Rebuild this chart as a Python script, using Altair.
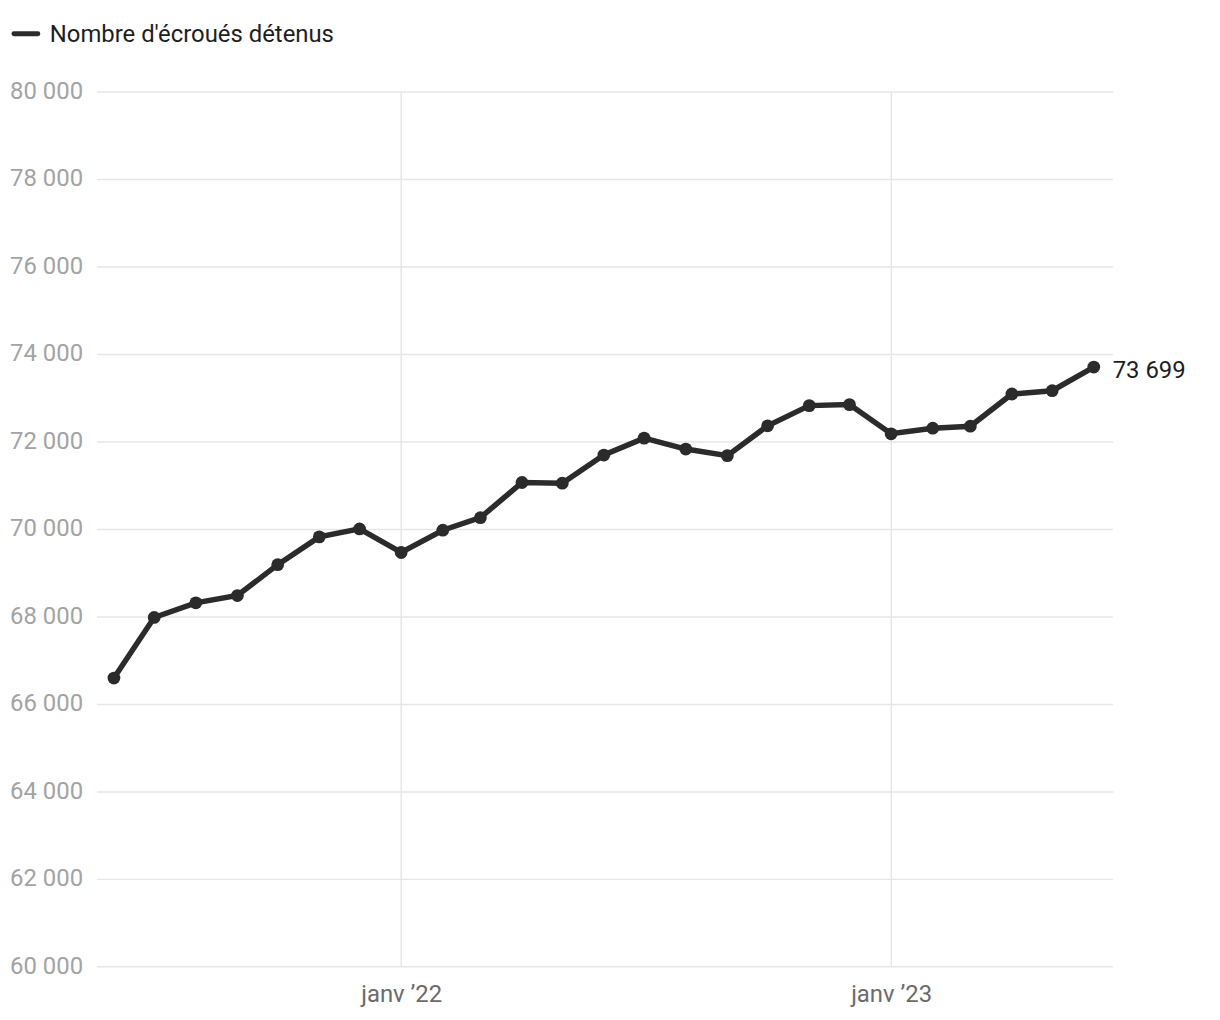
import altair as alt
import pandas as pd

months = [
    "2021-06-01", "2021-07-01", "2021-08-01", "2021-09-01", "2021-10-01", "2021-11-01",
    "2021-12-01", "2022-01-01", "2022-02-01", "2022-03-01", "2022-04-01", "2022-05-01",
    "2022-06-01", "2022-07-01", "2022-08-01", "2022-09-01", "2022-10-01", "2022-11-01",
    "2022-12-01", "2023-01-01", "2023-02-01", "2023-03-01", "2023-04-01", "2023-05-01",
    "2023-06-01",
]
detenus = [
    66591, 67977, 68311, 68477, 69182, 69818,
    70000, 69461, 69970, 70257, 71061, 71045,
    71689, 72075, 71825, 71675, 72357, 72818,
    72841, 72175, 72302, 72348, 73084, 73159,
    73699,
]
y_ticks = [60000, 62000, 64000, 66000, 68000, 70000, 72000, 74000, 76000, 78000, 80000]
series_name = "Nombre d'écroués détenus"

df = pd.DataFrame({"date": months, "value": detenus})
last = df.tail(1)

FONT = "Roboto"
LINE_COLOR = "#2b2b2b"

x_enc = alt.X(
    "date:T",
    scale=alt.Scale(
        type="utc",
        domain=[alt.DateTime(year=2021, month=5, date=19, utc=True),
                alt.DateTime(year=2023, month=6, date=15, utc=True)],
    ),
    axis=alt.Axis(
        values=[alt.DateTime(year=2022, month=1, date=1, utc=True),
                alt.DateTime(year=2023, month=1, date=1, utc=True)],
        labelExpr="'janv \u2019' + utcFormat(datum.value, '%y')",
        grid=True, gridColor="#e6e6e6", gridWidth=1.5,
        domain=False, ticks=False, labelPadding=16,
        labelFont=FONT, labelFontSize=24, labelColor="#6b6b6b",
        title=None,
    ),
)
y_enc = alt.Y(
    "value:Q",
    scale=alt.Scale(domain=[60000, 80000], nice=False, zero=False),
    axis=alt.Axis(
        values=y_ticks,
        labelExpr="replace(format(datum.value, ','), ',', ' ')",
        grid=True, gridColor="#e6e6e6", gridWidth=1.5,
        domain=False, ticks=False, labelPadding=14,
        labelFont=FONT, labelFontSize=24, labelColor="#a3a3a3",
        title=None,
    ),
)

base = alt.Chart(df).encode(x=x_enc, y=y_enc)
line = base.mark_line(color=LINE_COLOR, strokeWidth=5.5)
points = base.mark_circle(color=LINE_COLOR, size=165, opacity=1)

end_label = alt.Chart(last).mark_text(
    align="left", baseline="middle", dx=19, dy=4, font=FONT, fontSize=24, color="#1e1e1e"
).encode(
    x="date:T", y="value:Q",
    text=alt.Text("label:N"),
).transform_calculate(label="replace(format(datum.value, ','), ',', ' ')")

legend_df = pd.DataFrame({"name": [series_name]})
legend_line = alt.Chart(legend_df).mark_rule(
    color=LINE_COLOR, strokeWidth=5, strokeCap="round"
).encode(x=alt.value(-83), x2=alt.value(-59), y=alt.value(-58))
legend_text = alt.Chart(legend_df).mark_text(
    align="left", baseline="middle", font=FONT, fontSize=24, color="#1e1e1e"
).encode(x=alt.value(-47), y=alt.value(-57), text="name:N")

chart = alt.layer(line, points, end_label, legend_line, legend_text).properties(
    width=1022, height=880,
    autosize=alt.AutoSizeParams(type="none"),
    padding={"left": 89, "top": 81, "right": 100, "bottom": 50},
).configure_view(stroke=None)

chart.save("out.html", embed_options={"renderer": "svg", "actions": False})
